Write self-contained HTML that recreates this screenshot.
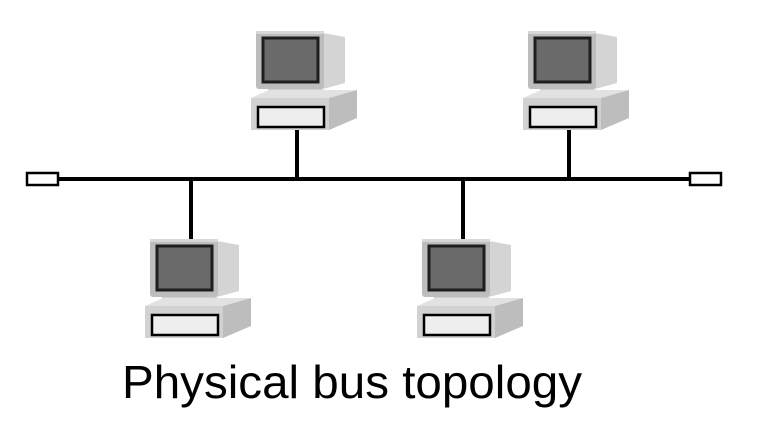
<!DOCTYPE html>
<html><head><style>
html,body{margin:0;padding:0;background:#fff;width:762px;height:442px;overflow:hidden}
</style></head><body>
<svg width="762" height="442" viewBox="0 0 762 442" xmlns="http://www.w3.org/2000/svg">
<defs>
<g id="pc">
  <polygon points="67,2 89,6 89,52 67,58" fill="#d4d4d4"/>
  <rect x="0" y="0" width="68" height="58" rx="3" fill="#bdbdbd"/>
  <rect x="0" y="0" width="68" height="3" fill="#d8d8d8"/>
  <rect x="7" y="7" width="55" height="44" fill="#6a6a6a" stroke="#1e1e1e" stroke-width="3"/>
  <rect x="12" y="58" width="55" height="8" fill="#cfcfcf"/>
  <rect x="62" y="62" width="14" height="4" fill="#222"/>
  <polygon points="-5,67 13,59 101,59 73,67" fill="#e2e2e2"/>
  <polygon points="73,67 101,59 101,87 73,99" fill="#bdbdbd"/>
  <rect x="-5" y="67" width="78" height="32" fill="#d2d2d2"/>
  <rect x="2" y="76" width="66" height="20" fill="#eeeeee" stroke="#000" stroke-width="2.5"/>
</g>
</defs>
<line x1="58" y1="179" x2="690" y2="179" stroke="#000" stroke-width="4"/>
<rect x="27" y="173" width="31" height="12" fill="#fff" stroke="#000" stroke-width="2.5"/>
<rect x="690" y="173" width="31" height="12" fill="#fff" stroke="#000" stroke-width="2.5"/>
<line x1="297" y1="130" x2="297" y2="179" stroke="#000" stroke-width="4"/>
<line x1="569" y1="130" x2="569" y2="179" stroke="#000" stroke-width="4"/>
<line x1="191" y1="179" x2="191" y2="239" stroke="#000" stroke-width="4"/>
<line x1="463" y1="179" x2="463" y2="239" stroke="#000" stroke-width="4"/>
<use href="#pc" x="256" y="31"/>
<use href="#pc" x="528" y="31"/>
<use href="#pc" x="150" y="239"/>
<use href="#pc" x="422" y="239"/>
<text x="122" y="398" font-family="Liberation Sans, sans-serif" font-size="46" textLength="460" lengthAdjust="spacingAndGlyphs" fill="#000">Physical bus topology</text>
</svg>
</body></html>
